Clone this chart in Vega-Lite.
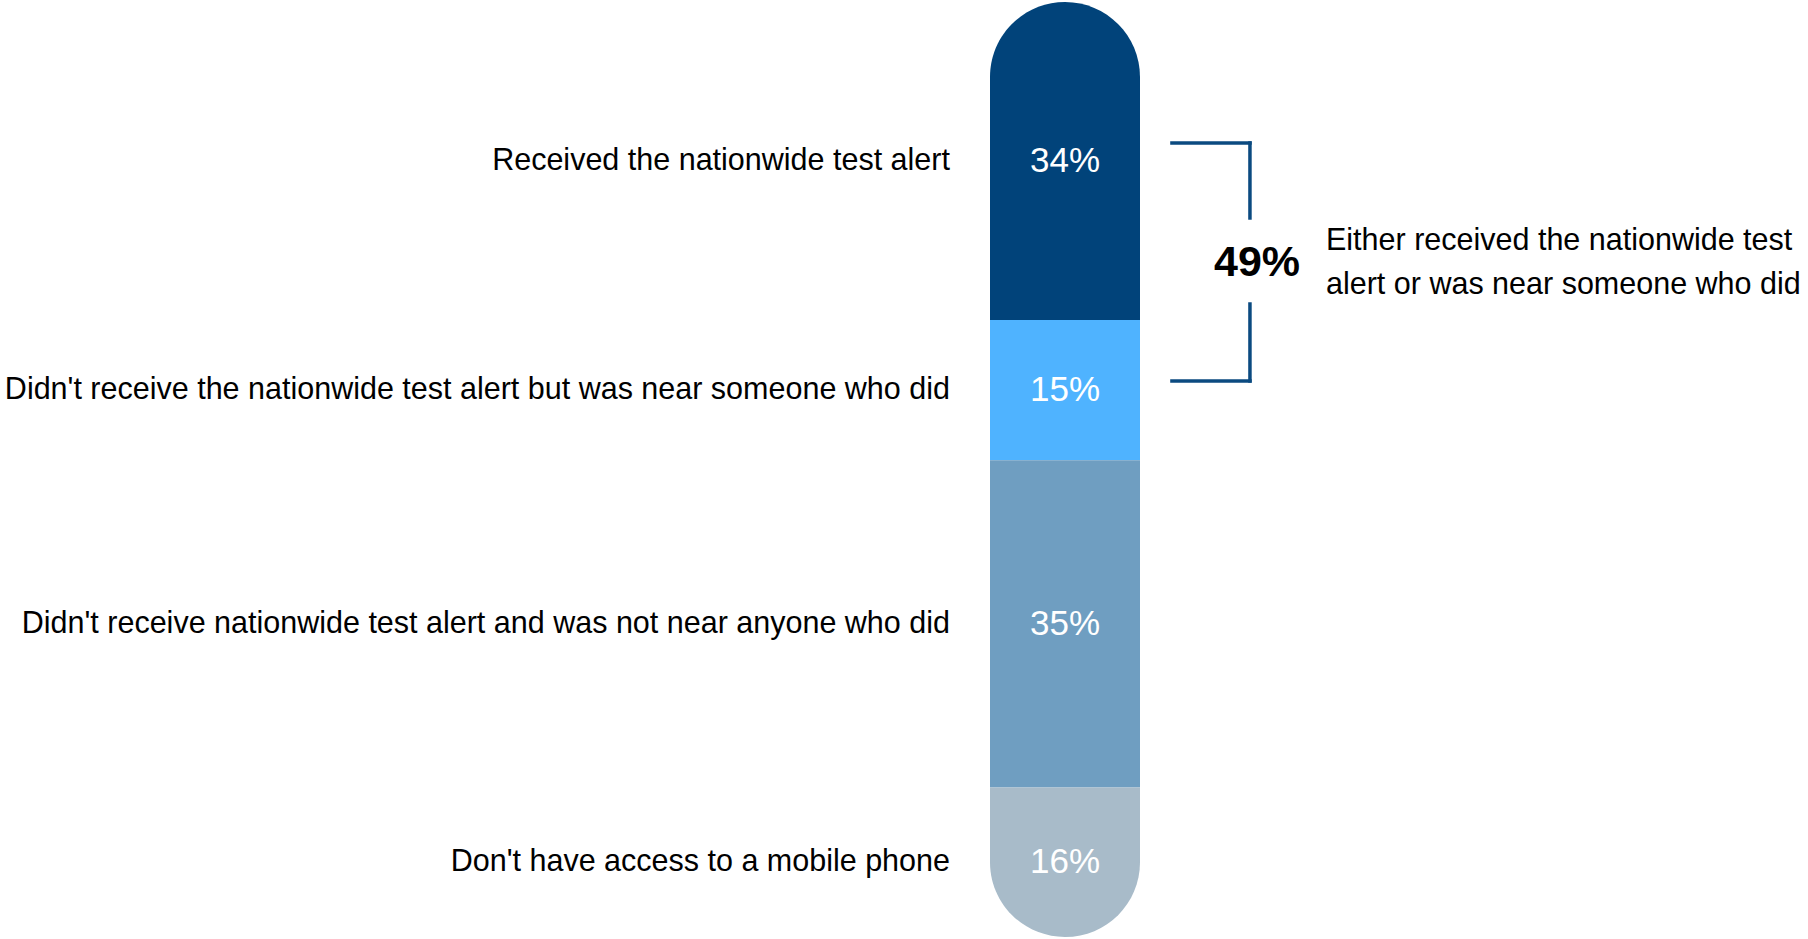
{
  "$schema": "https://vega.github.io/schema/vega-lite/v6.json",
  "width": 1808,
  "height": 935,
  "autosize": {"type": "none"},
  "padding": {"left": 0, "right": 0, "top": 2, "bottom": 2},
  "background": "white",
  "config": {"view": {"stroke": null}, "font": "Liberation Sans"},
  "datasets": {
    "segments": [
      {"category": "Received the nationwide test alert", "share": 0.34, "order": 1},
      {"category": "Didn't receive the nationwide test alert but was near someone who did", "share": 0.15, "order": 2},
      {"category": "Didn't receive nationwide test alert and was not near anyone who did", "share": 0.35, "order": 3},
      {"category": "Don't have access to a mobile phone", "share": 0.16, "order": 4}
    ],
    "summary": [
      {"share": 0.49, "text": "Either received the nationwide test\nalert or was near someone who did"}
    ]
  },
  "layer": [
    {
      "data": {"name": "segments"},
      "transform": [
        {"stack": "share", "groupby": [], "sort": [{"field": "order", "order": "ascending"}], "as": ["y0", "y1"]},
        {"calculate": "(datum.y0 + datum.y1) / 2", "as": "mid"}
      ],
      "encoding": {
        "color": {
          "field": "category",
          "type": "nominal",
          "legend": null,
          "scale": {
            "domain": [
              "Received the nationwide test alert",
              "Didn't receive the nationwide test alert but was near someone who did",
              "Didn't receive nationwide test alert and was not near anyone who did",
              "Don't have access to a mobile phone"
            ],
            "range": ["#01437A", "#4FB3FF", "#6F9EC1", "#A8BBC9"]
          }
        }
      },
      "layer": [
        {
          "transform": [{"filter": "datum.order == 1"}],
          "mark": {"type": "rect", "cornerRadiusTopLeft": 75, "cornerRadiusTopRight": 75},
          "encoding": {
            "x": {"datum": 0, "type": "quantitative", "scale": {"domain": [-6.6, 5.4533], "nice": false, "zero": false}, "axis": null},
            "x2": {"datum": 1},
            "y": {"field": "y0", "type": "quantitative", "scale": {"domain": [0, 1], "reverse": true, "nice": false}, "axis": null},
            "y2": {"field": "y1"}
          }
        },
        {
          "transform": [{"filter": "datum.order == 2 || datum.order == 3"}],
          "mark": {"type": "rect"},
          "encoding": {
            "x": {"datum": 0, "type": "quantitative"},
            "x2": {"datum": 1},
            "y": {"field": "y0", "type": "quantitative"},
            "y2": {"field": "y1"}
          }
        },
        {
          "transform": [{"filter": "datum.order == 4"}],
          "mark": {"type": "rect", "cornerRadiusBottomLeft": 75, "cornerRadiusBottomRight": 75},
          "encoding": {
            "x": {"datum": 0, "type": "quantitative"},
            "x2": {"datum": 1},
            "y": {"field": "y0", "type": "quantitative"},
            "y2": {"field": "y1"}
          }
        },
        {
          "mark": {"type": "text", "align": "center", "baseline": "middle", "fontSize": 35, "color": "white"},
          "encoding": {
            "color": {"value": "white"},
            "x": {"datum": 0.5, "type": "quantitative"},
            "y": {"field": "mid", "type": "quantitative"},
            "text": {"field": "share", "type": "quantitative", "format": ".0%"}
          }
        },
        {
          "mark": {"type": "text", "align": "right", "baseline": "middle", "fontSize": 30.5},
          "encoding": {
            "color": {"value": "black"},
            "x": {"datum": -0.267, "type": "quantitative"},
            "y": {"field": "mid", "type": "quantitative"},
            "text": {"field": "category", "type": "nominal"}
          }
        }
      ]
    },
    {
      "data": {"name": "summary"},
      "layer": [
        {
          "mark": {"type": "rule", "color": "#0B4A80", "strokeWidth": 3.5, "strokeCap": "square"},
          "encoding": {
            "x": {"datum": 1.213, "type": "quantitative"},
            "x2": {"datum": 1.733},
            "y": {"datum": 0.1508, "type": "quantitative"}
          }
        },
        {
          "mark": {"type": "rule", "color": "#0B4A80", "strokeWidth": 3.5, "strokeCap": "square"},
          "encoding": {
            "x": {"datum": 1.733, "type": "quantitative"},
            "y": {"datum": 0.1508, "type": "quantitative"},
            "y2": {"datum": 0.231}
          }
        },
        {
          "mark": {"type": "rule", "color": "#0B4A80", "strokeWidth": 3.5, "strokeCap": "square"},
          "encoding": {
            "x": {"datum": 1.733, "type": "quantitative"},
            "y": {"datum": 0.323, "type": "quantitative"},
            "y2": {"datum": 0.4053}
          }
        },
        {
          "mark": {"type": "rule", "color": "#0B4A80", "strokeWidth": 3.5, "strokeCap": "square"},
          "encoding": {
            "x": {"datum": 1.213, "type": "quantitative"},
            "x2": {"datum": 1.733},
            "y": {"datum": 0.4053, "type": "quantitative"}
          }
        },
        {
          "mark": {"type": "text", "align": "center", "baseline": "middle", "fontSize": 43, "fontWeight": "bold", "color": "black"},
          "encoding": {
            "x": {"datum": 1.78, "type": "quantitative"},
            "y": {"datum": 0.279, "type": "quantitative"},
            "text": {"field": "share", "type": "quantitative", "format": ".0%"}
          }
        },
        {
          "mark": {"type": "text", "align": "left", "baseline": "middle", "fontSize": 30.5, "lineHeight": 44, "lineBreak": "\n", "color": "black"},
          "encoding": {
            "x": {"datum": 2.24, "type": "quantitative"},
            "y": {"datum": 0.2556, "type": "quantitative"},
            "text": {"field": "text", "type": "nominal"}
          }
        }
      ]
    }
  ]
}
